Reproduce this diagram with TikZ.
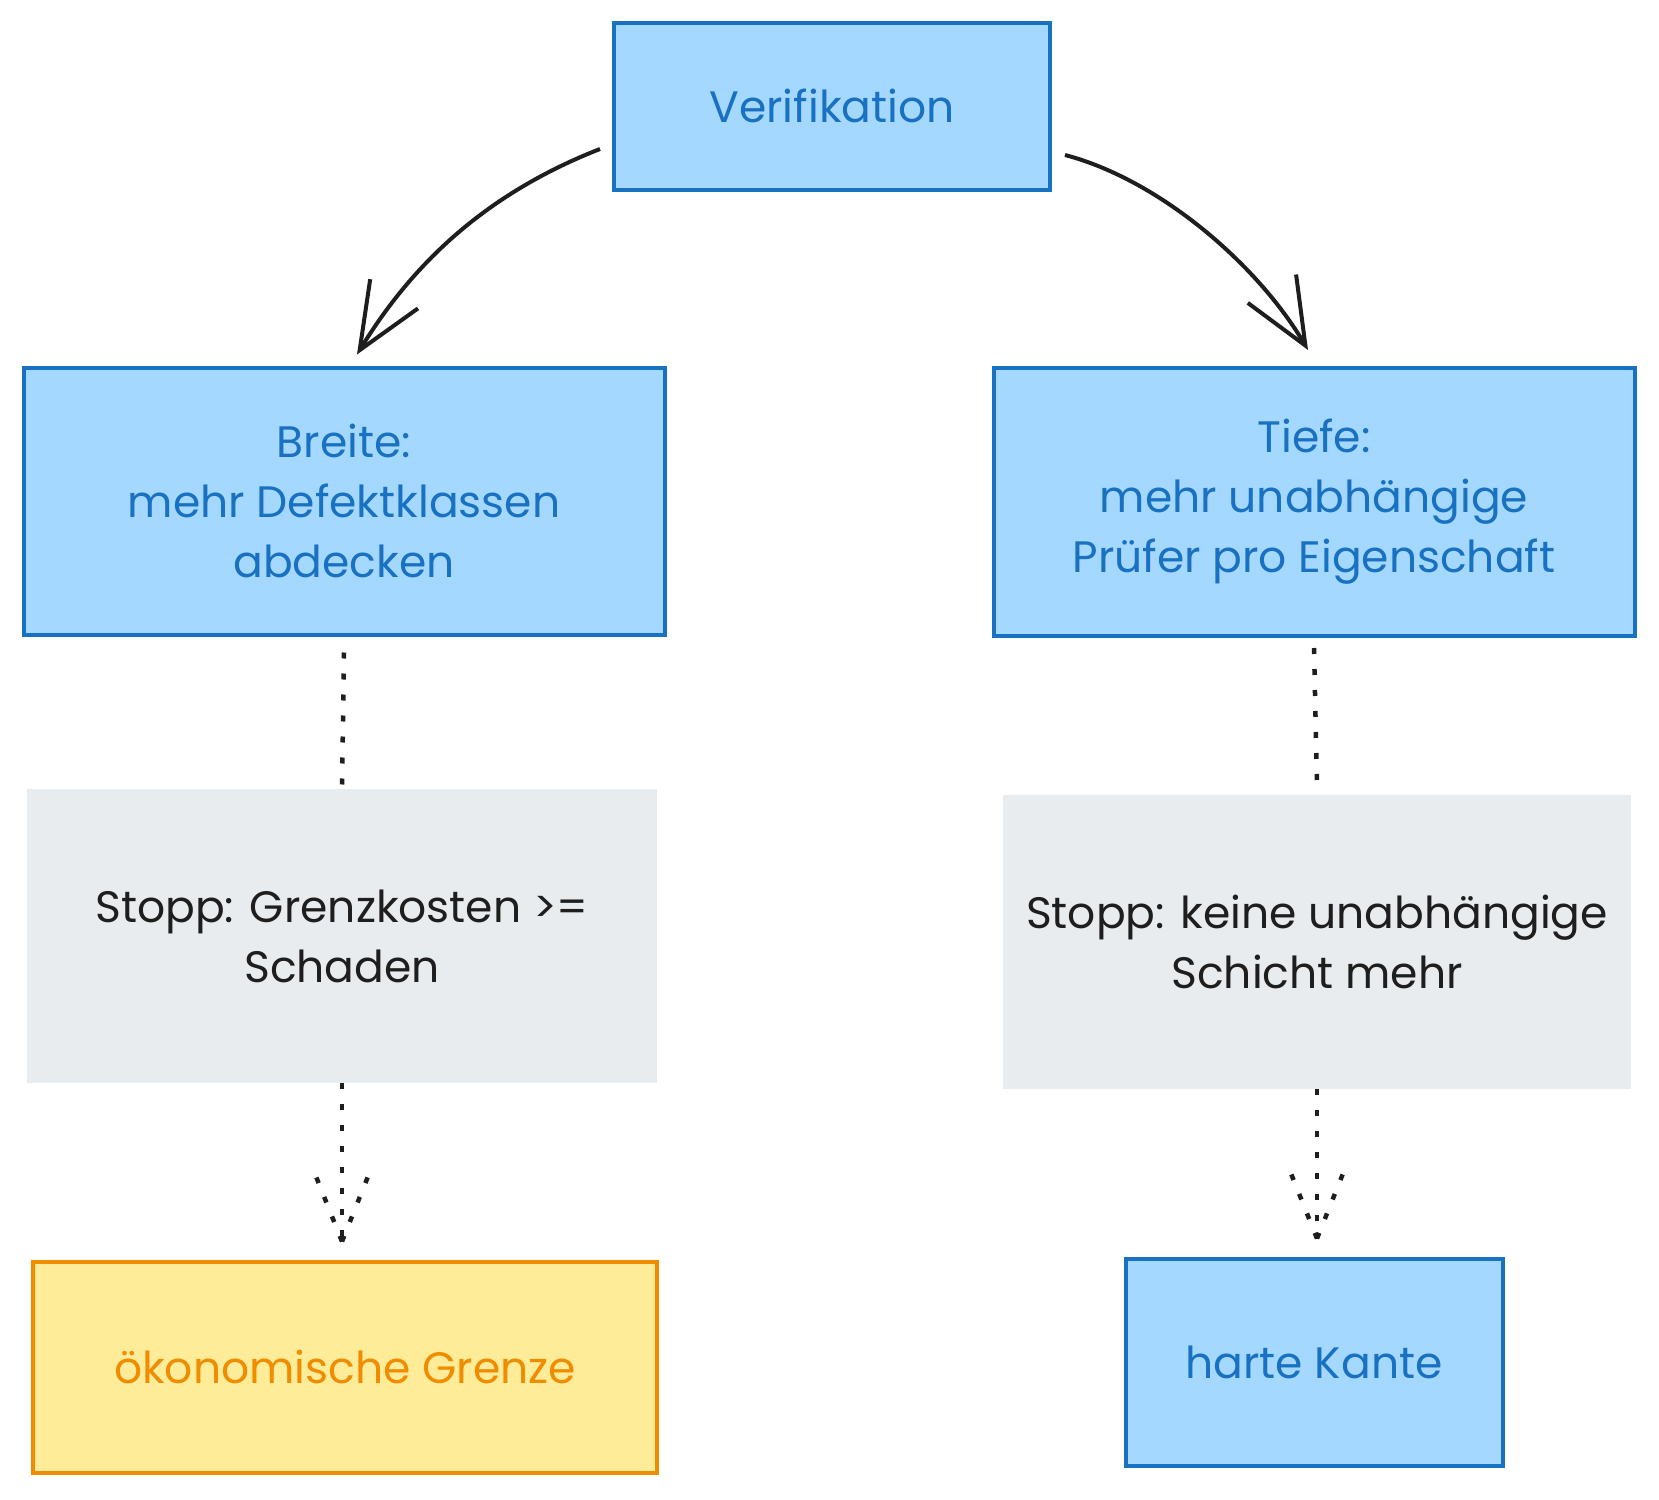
\documentclass[tikz,border=0pt]{standalone}
\usepackage{fontspec}
\setmainfont{Poppins}
\usepackage{tikz}
\usetikzlibrary{arrows.meta}

\definecolor{bluefill}{HTML}{A5D8FF}
\definecolor{blueline}{HTML}{1971C2}
\definecolor{yellowfill}{HTML}{FFEC99}
\definecolor{orangeline}{HTML}{F08C00}
\definecolor{grayfill}{HTML}{E9ECEF}
\definecolor{inkblack}{HTML}{1E1E1E}

\begin{document}
\begin{tikzpicture}[x=1pt, y=-1pt,
    bluebox/.style={draw=blueline, fill=bluefill, text=blueline, line width=4pt, inner sep=0pt, align=center, font=\fontsize{44}{60}\selectfont},
    yellowbox/.style={draw=orangeline, fill=yellowfill, text=orangeline, line width=4pt, inner sep=0pt, align=center, font=\fontsize{44}{60}\selectfont},
    graybox/.style={fill=grayfill, text=inkblack, inner sep=0pt, align=center, font=\fontsize{44}{60}\selectfont},
    curvearrow/.style={draw=inkblack, line width=4pt, -{Straight Barb[length=66pt, width=56pt, line width=4pt]}},
    dots/.style={draw=inkblack, line width=4.5pt, dash pattern=on 6pt off 15pt}]
            \useasboundingbox (0,0) rectangle (1659,1499);
            \node[bluebox, minimum width=436pt, minimum height=167pt] (verif) at (832,106) {Verifikation};
            \node[bluebox, minimum width=641pt, minimum height=267pt] (breite) at (344,501) {Breite:\\mehr Defektklassen\\abdecken};
            \node[bluebox, minimum width=641pt, minimum height=268pt] (tiefe) at (1314,502) {Tiefe:\\mehr unabhängige\\Prüfer pro Eigenschaft};
            \node[graybox, minimum width=630pt, minimum height=294pt] (stoppB) at (342,936) {Stopp: Grenzkosten >=\\Schaden};
            \node[graybox, minimum width=628pt, minimum height=294pt] (stoppT) at (1317,942) {Stopp: keine unabhängige\\Schicht mehr};
            \node[yellowbox, minimum width=624pt, minimum height=211pt] (oekon) at (345,1367) {ökonomische Grenze};
            \node[bluebox, minimum width=377pt, minimum height=207pt] (kante) at (1314,1362) {harte Kante};
            \draw[curvearrow] ([shift={(-12,43)}]verif.west) .. controls +(-115,45) and +(55,-90) .. ([shift={(13,-11)}]breite.north);
            \draw[curvearrow] ([shift={(13,49)}]verif.east) .. controls +(95,25) and +(-50,-85) .. ([shift={(-6,-16)}]tiefe.north);
            \draw[dots] ([yshift=-16pt]breite.south) -- (stoppB.north);
            \draw[dots] ([yshift=-10pt]tiefe.south) -- ([yshift=10pt]stoppT.north);
            \coordinate[yshift=18pt] (tipB) at (stoppB.south |- oekon.north);
            \coordinate[yshift=18pt] (tipT) at (stoppT.south |- kante.north);
            \draw[dots] (stoppB.south) -- (tipB);
            \draw[dots] (tipB) -- ++(-26,-65);
            \draw[dots] (tipB) -- ++(26,-65);
            \draw[dots] (stoppT.south) -- (tipT);
            \draw[dots] (tipT) -- ++(-26,-65);
            \draw[dots] (tipT) -- ++(26,-65);
          \end{tikzpicture}
\end{document}
